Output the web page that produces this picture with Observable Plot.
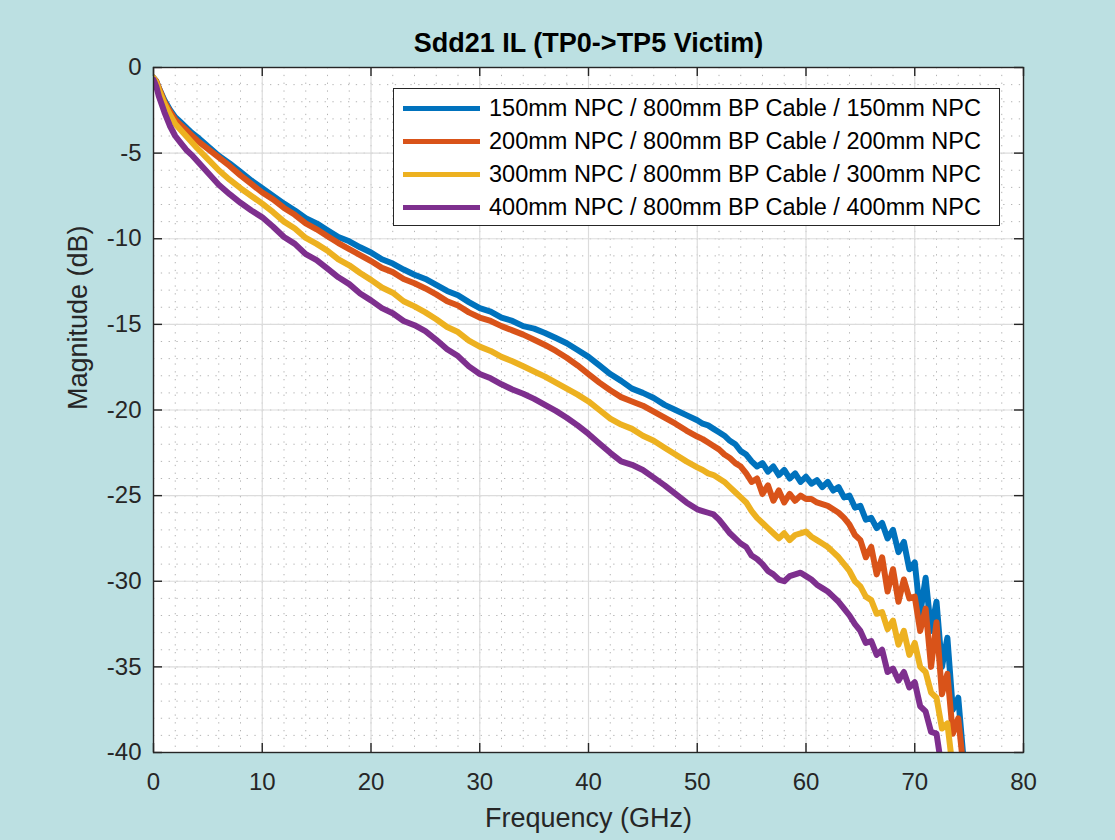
<!DOCTYPE html>
<html>
<head>
<meta charset="utf-8">
<script src="https://cdn.jsdelivr.net/npm/d3@7"></script>
<script src="https://cdn.jsdelivr.net/npm/@observablehq/plot@0.6"></script>
<style>
  html, body { margin: 0; padding: 0; background: #bce0e2; }
  #wrap { position: relative; width: 1115px; height: 840px; font-family: "Liberation Sans", Arial, sans-serif; }
  #legend { position: absolute; left: 393px; top: 88px; width: 607px; height: 138px; background: #fff;
            border: 1px solid #262626; box-sizing: border-box; }
  .row { position: absolute; left: 9px; height: 30px; display: flex; align-items: center; }
  .swatch { width: 77px; height: 5px; margin-right: 9px; }
  .lab { font-size: 23.5px; color: #000; white-space: nowrap; }
</style>
</head>
<body>
<div id="wrap"><div id="chart"></div><div id="legend"></div></div>
<script>
const seriesNames = [
  "150mm NPC / 800mm BP Cable / 150mm NPC",
  "200mm NPC / 800mm BP Cable / 200mm NPC",
  "300mm NPC / 800mm BP Cable / 300mm NPC",
  "400mm NPC / 800mm BP Cable / 400mm NPC"
];
const seriesColors = ["#0072BD", "#D95319", "#EDB120", "#7E2F8E"];

const freq = [0,0.25,0.5,0.75,1,1.5,2,2.5,3,3.5,4,5,6,7,8,9,10,11,12,13,14,15,16,17,18,19,20,21,22,23,24,25,26,27,28,29,30,
  31,32,33,34,35,36,37,38,39,40,41,42,43,44,45,46,47,48,49,50,
  50.5,51,51.5,52,52.5,53,53.5,54,54.5,55,55.5,56,56.5,57,57.5,58,58.5,59,59.5,60,
  60.5,61,61.5,62,62.5,63,63.5,64,64.5,65,65.5,66,66.5,67,67.5,68,68.5,69,69.5,70,
  70.5,71,71.5,72,72.5,73,73.5,74,74.5,75];

const il150 = [-0.6,-0.8,-1.2,-1.55,-1.9,-2.45,-2.9,-3.2,-3.5,-3.8,-4.05,
  -4.6,-5.15,-5.6,-6.1,-6.6,-7.05,
  -7.5,-7.95,-8.35,-8.8,-9.1,-9.5,-9.9,-10.15,-10.5,-10.8,
  -11.2,-11.45,-11.8,-12.1,-12.35,-12.7,-13.05,-13.3,-13.7,-14.05,
  -14.25,-14.6,-14.8,-15.1,-15.25,-15.5,-15.8,-16.1,-16.5,-16.9,
  -17.4,-17.9,-18.3,-18.75,-19.0,-19.3,-19.7,-20.0,-20.3,-20.6,
  -20.8,-20.9,-21.1,-21.3,-21.5,-21.8,-22.0,-22.4,-22.6,-23.0,
  -23.3,-23.1,-23.6,-23.3,-23.8,-23.5,-24.0,-23.7,-24.2,-23.9,
  -24.3,-24.1,-24.5,-24.2,-24.7,-24.5,-25.1,-25.0,-25.7,-25.6,
  -26.4,-26.3,-26.9,-26.6,-27.5,-27.0,-28.3,-27.7,-29.3,-28.9,
  -31.9,-29.8,-32.9,-31.2,-35.0,-33.3,-37.5,-36.8,-40.5,-42];

const il200 = [-0.6,-0.8,-1.2,-1.6,-2.0,-2.55,-3.05,-3.35,-3.65,-3.95,-4.25,
  -4.75,-5.25,-5.75,-6.3,-6.8,-7.3,
  -7.7,-8.2,-8.6,-9.1,-9.45,-9.85,-10.25,-10.6,-10.95,-11.3,
  -11.7,-11.95,-12.35,-12.6,-12.9,-13.25,-13.65,-13.9,-14.3,-14.6,
  -14.8,-15.1,-15.35,-15.6,-15.9,-16.2,-16.55,-16.95,-17.4,-17.9,
  -18.4,-18.85,-19.25,-19.5,-19.75,-20.1,-20.45,-20.8,-21.2,-21.55,
  -21.7,-21.9,-22.1,-22.3,-22.6,-22.8,-23.1,-23.3,-23.7,-24.2,
  -24.0,-24.9,-24.4,-25.3,-24.7,-25.4,-24.9,-25.3,-25.0,-25.2,
  -25.2,-25.4,-25.5,-25.6,-25.8,-26.0,-26.3,-26.7,-27.3,-27.6,
  -28.6,-28.0,-29.6,-28.6,-30.6,-29.3,-31.2,-29.9,-31.0,-30.9,
  -32.9,-31.6,-35.0,-32.4,-36.6,-35.4,-38.9,-38.0,-41];

const il300 = [-0.6,-0.85,-1.3,-1.7,-2.1,-2.75,-3.3,-3.65,-4.0,-4.35,-4.7,
  -5.35,-6.0,-6.55,-7.05,-7.5,-7.95,
  -8.45,-9.0,-9.4,-9.95,-10.3,-10.7,-11.2,-11.55,-12.0,-12.4,
  -12.85,-13.15,-13.65,-13.95,-14.3,-14.7,-15.15,-15.45,-15.95,-16.3,
  -16.55,-16.9,-17.15,-17.45,-17.75,-18.05,-18.4,-18.75,-19.1,-19.5,
  -20.0,-20.5,-20.85,-21.1,-21.5,-21.8,-22.2,-22.6,-23.0,-23.35,
  -23.5,-23.7,-23.8,-24.0,-24.2,-24.5,-24.8,-25.1,-25.4,-25.9,
  -26.3,-26.6,-26.9,-27.2,-27.5,-27.2,-27.6,-27.3,-27.2,-27.1,
  -27.4,-27.6,-27.8,-28.0,-28.3,-28.6,-29.0,-29.4,-30.0,-30.3,
  -30.9,-31.1,-31.9,-31.8,-32.8,-32.3,-33.7,-32.9,-34.3,-33.6,
  -35.0,-35.3,-36.5,-36.8,-38.6,-38.3,-41];

const il400 = [-0.7,-1.1,-1.7,-2.15,-2.6,-3.4,-4.0,-4.4,-4.8,-5.1,-5.45,
  -6.15,-6.85,-7.4,-7.9,-8.35,-8.75,
  -9.3,-9.9,-10.3,-10.9,-11.25,-11.75,-12.25,-12.65,-13.2,-13.6,
  -14.05,-14.35,-14.8,-15.05,-15.4,-15.9,-16.45,-16.85,-17.45,-17.9,
  -18.15,-18.5,-18.8,-19.05,-19.35,-19.7,-20.05,-20.45,-20.9,-21.4,
  -21.95,-22.5,-23.0,-23.2,-23.5,-23.95,-24.4,-24.9,-25.4,-25.8,
  -25.9,-26.0,-26.1,-26.4,-26.8,-27.2,-27.5,-27.8,-28.0,-28.5,
  -28.7,-29.0,-29.4,-29.6,-29.9,-30.0,-29.7,-29.6,-29.5,-29.7,
  -29.9,-30.2,-30.4,-30.6,-30.9,-31.2,-31.6,-32.0,-32.5,-32.9,
  -33.6,-33.5,-34.3,-34.0,-35.3,-35.1,-35.8,-35.3,-36.2,-35.9,
  -37.3,-37.6,-38.8,-38.9,-41];

const xTicks = [0,10,20,30,40,50,60,70,80];
const yTicks = [-40,-35,-30,-25,-20,-15,-10,-5,0];
const chartTitle = "Sdd21 IL (TP0->TP5 Victim)";
const xLabel = "Frequency (GHz)";
const yLabel = "Magnitude (dB)";

const seriesValues = [il150, il200, il300, il400];
const rows = [];
seriesValues.forEach((vals, s) => {
  vals.forEach((v, i) => rows.push({f: freq[i], v, s: seriesNames[s]}));
});

const xMinor = d3.range(0, 81, 2);
const yMinor = d3.range(-40, 1, 1);
const font = '"Liberation Sans", Arial, sans-serif';
const ink = "#262626";

const chart = Plot.plot({
  width: 1115, height: 840,
  marginLeft: 153, marginRight: 92, marginTop: 67, marginBottom: 88,
  style: {background: "transparent", fontFamily: font, color: ink, overflow: "visible"},
  x: {domain: [0, 80]},
  y: {domain: [-40, 0]},
  color: {domain: seriesNames, range: seriesColors},
  marks: [
    Plot.frame({fill: "white", stroke: null}),
    Plot.gridX(xMinor, {stroke: "#9a9a9a", strokeOpacity: 0.75, strokeDasharray: "1.3,6.5", strokeWidth: 1}),
    Plot.gridY(yMinor, {stroke: "#9a9a9a", strokeOpacity: 0.75, strokeDasharray: "1.3,6.5", strokeWidth: 1}),
    Plot.gridX(xTicks, {stroke: "#dcdcdc", strokeOpacity: 1, strokeWidth: 1.2}),
    Plot.gridY(yTicks, {stroke: "#dcdcdc", strokeOpacity: 1, strokeWidth: 1.2}),
    Plot.line(rows, {x: "f", y: "v", z: "s", stroke: "s", strokeWidth: 6,
      strokeLinejoin: "round", strokeLinecap: "round", clip: true}),
    Plot.ruleX(xTicks, {x: d => d, insetTop: 676, stroke: ink, strokeWidth: 1.4}),
    Plot.ruleX(xTicks, {x: d => d, insetBottom: 676, stroke: ink, strokeWidth: 1.4}),
    Plot.ruleY(yTicks, {y: d => d, insetRight: 861, stroke: ink, strokeWidth: 1.4}),
    Plot.ruleY(yTicks, {y: d => d, insetLeft: 861, stroke: ink, strokeWidth: 1.4}),
    Plot.frame({stroke: ink, strokeWidth: 1.4}),
    Plot.axisX(xTicks, {tickSize: 0, tickPadding: 20, fontSize: 24, tickFormat: d => String(d), label: null, fill: ink}),
    Plot.axisY(yTicks, {tickSize: 0, tickPadding: 12, fontSize: 24, tickFormat: d => String(d), label: null, fill: ink}),
    Plot.text([xLabel], {text: d => d, frameAnchor: "bottom", dy: 66, lineAnchor: "middle", fontSize: 27, fill: ink}),
    Plot.text([yLabel], {text: d => d, frameAnchor: "left", dx: -75, rotate: -90, lineAnchor: "middle", fontSize: 27, fill: ink}),
    Plot.text([chartTitle], {text: d => d, frameAnchor: "top", dy: -24, lineAnchor: "middle", fontSize: 27, fontWeight: "bold", fill: "#000"})
  ]
});
document.getElementById("chart").appendChild(chart);

const legend = d3.select("#legend");
seriesNames.forEach((name, i) => {
  const row = legend.append("div").attr("class", "row").style("top", (4 + i * 33.3) + "px");
  row.append("div").attr("class", "swatch").style("background", seriesColors[i]);
  row.append("div").attr("class", "lab").text(name);
});
</script>
</body>
</html>
